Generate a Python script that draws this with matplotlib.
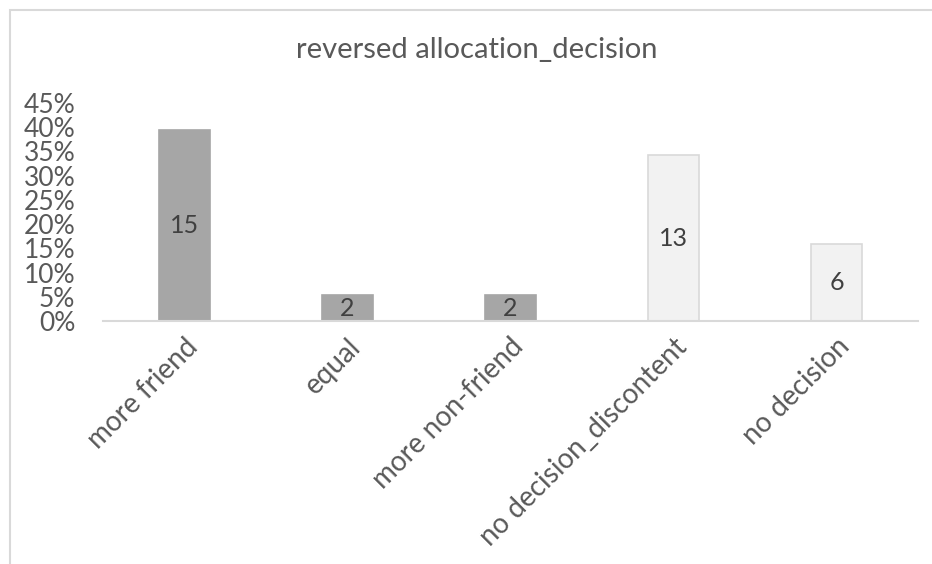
import matplotlib.pyplot as plt
from matplotlib.patches import Rectangle
from matplotlib.ticker import PercentFormatter

categories = ['more friend', 'equal', 'more non-friend', 'no decision_discontent', 'no decision']
counts = [15, 2, 2, 13, 6]
fill_colors = ['#A6A6A6', '#A6A6A6', '#A6A6A6', '#F2F2F2', '#F2F2F2']
edge_colors = ['#A6A6A6', '#A6A6A6', '#A6A6A6', '#D9D9D9', '#D9D9D9']

total = sum(counts)
shares = [c / total for c in counts]

plt.rcParams['font.family'] = ['Lato', 'DejaVu Sans']

fig = plt.figure(figsize=(9.32, 5.64), dpi=100)
ax = fig.add_axes([0.1105, 0.4309, 0.8745, 0.3865])

# chart frame (only left and top edges show)
fig.patches.append(Rectangle((10 / 932, -0.1), 1.2, 1 - 10 / 564 + 0.1,
                             transform=fig.transFigure, fill=False,
                             edgecolor='#D9D9D9', linewidth=1.5))

x = range(len(categories))
bars = ax.bar(x, shares, width=0.31, color=fill_colors, edgecolor=edge_colors, linewidth=1.2)

for bar, c in zip(bars, counts):
    ax.text(bar.get_x() + bar.get_width() / 2, bar.get_height() / 2, str(c),
            ha='center', va='center', fontsize=18, color='#404040')

ax.set_xlim(-0.5, len(categories) - 0.5)
ax.set_ylim(0, 0.45)
ax.set_yticks([i * 0.05 for i in range(10)])
ax.yaxis.set_major_formatter(PercentFormatter(1.0, decimals=0))
ax.set_xticks(list(x))
ax.set_xticklabels(categories, rotation=45, ha='right', rotation_mode='anchor')

ax.tick_params(axis='both', length=0, labelcolor='#595959')
ax.tick_params(axis='y', labelsize=19, pad=20)
ax.tick_params(axis='x', labelsize=20, pad=9)

for side in ['left', 'right', 'top']:
    ax.spines[side].set_visible(False)
ax.spines['bottom'].set_color('#D9D9D9')
ax.spines['bottom'].set_linewidth(1.5)

fig.text(477 / 932, 1 - 50 / 564, 'reversed allocation_decision',
         ha='center', va='center', fontsize=21, color='#595959')

fig.savefig('out.png', dpi=100)
